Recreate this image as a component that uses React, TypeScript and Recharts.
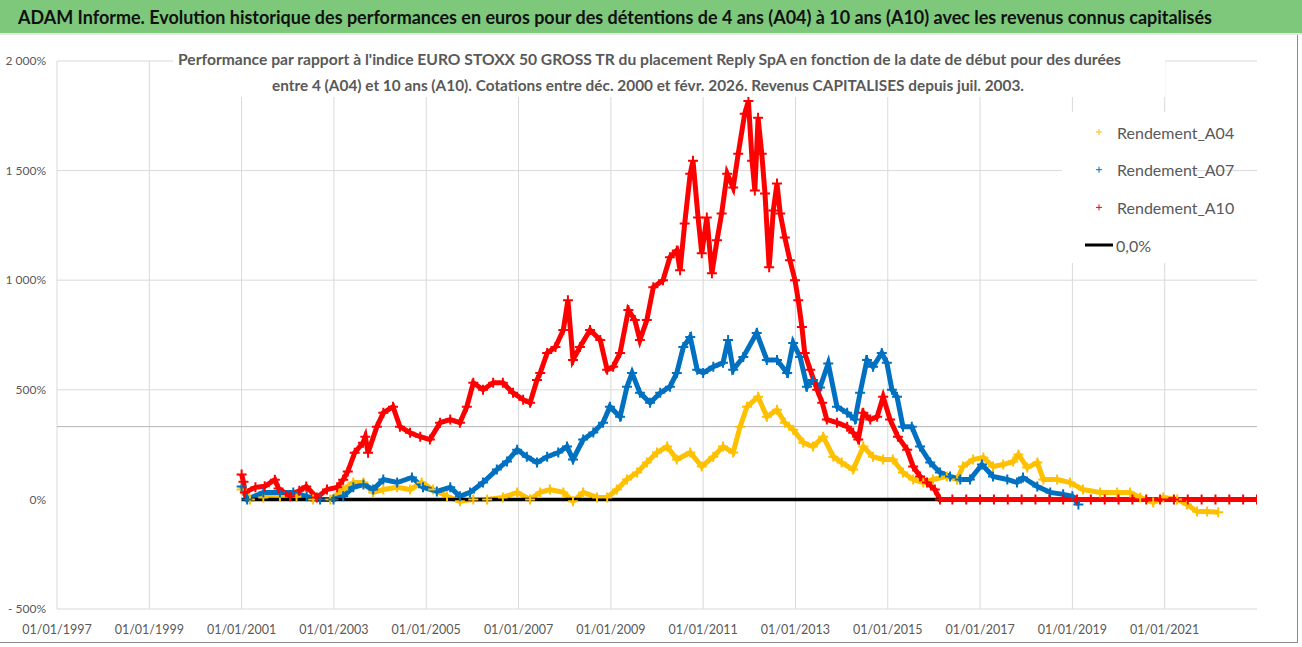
import { ComposedChart, Line, XAxis, YAxis, ReferenceLine } from 'recharts';

// axis ticks
const xTicks = [1997, 1999, 2001, 2003, 2005, 2007, 2009, 2011, 2013, 2015, 2017, 2019, 2021];
const yTicks = [-500, 0, 500, 1000, 1500, 2000];
const gridValues = [-500, 500, 1000, 1500, 2000];
const markerLevel = 332;

// Rendement_A04 (dates in decimal years, values in %)
const a04Dates = [
  2001.0, 2001.18, 2001.47, 2001.83, 2002.19, 2002.55, 2002.92, 2003.2, 2003.42, 2003.64, 2003.85,
  2004.07, 2004.37, 2004.65, 2004.9, 2005.15, 2005.45, 2005.73, 2006.02, 2006.32, 2006.66, 2006.97,
  2007.25, 2007.47, 2007.68, 2007.97, 2008.18, 2008.4, 2008.7, 2008.92, 2009.13, 2009.35, 2009.57,
  2009.78, 2010.0, 2010.22, 2010.43, 2010.72, 2010.97, 2011.22, 2011.43, 2011.65, 2011.8, 2011.95,
  2012.19, 2012.38, 2012.6, 2012.77, 2012.95, 2013.17, 2013.38, 2013.6, 2013.82, 2014.0, 2014.25,
  2014.47, 2014.68, 2014.9, 2015.11, 2015.33, 2015.55, 2015.77, 2015.98, 2016.28, 2016.5, 2016.63,
  2016.85, 2017.07, 2017.28, 2017.5, 2017.72, 2017.83, 2018.02, 2018.24, 2018.37, 2018.67, 2018.95,
  2019.23, 2019.6, 2019.97, 2020.25, 2020.47, 2020.75, 2020.97, 2021.27, 2021.48, 2021.7, 2021.92, 2022.16,
];
const a04Values = [
  45, 0, 9, 14, 14, 0, 0, 45, 77, 77, 32,
  45, 55, 45, 77, 45, 14, -9, 0, 0, 9, 32,
  0, 32, 45, 32, -9, 32, 9, 9, 45, 91, 123,
  168, 214, 241, 182, 214, 150, 195, 241, 214, 332, 423,
  468, 377, 409, 350, 318, 259, 241, 286, 195, 168, 136,
  241, 195, 182, 182, 123, 91, 77, 91, 105, 91, 150,
  182, 191, 150, 159, 173, 205, 145, 168, 91, 91, 77,
  45, 32, 32, 32, 9, -14, 9, 0, -23, -55, -55, -59,
];

// Rendement_A07
const a07Dates = [
  2001.0, 2001.12, 2001.47, 2001.83, 2002.12, 2002.41, 2002.7, 2002.99, 2003.2, 2003.42, 2003.64,
  2003.85, 2004.07, 2004.37, 2004.69, 2004.93, 2005.23, 2005.52, 2005.73, 2005.95, 2006.23, 2006.53,
  2006.75, 2006.97, 2007.18, 2007.4, 2007.62, 2007.86, 2008.05, 2008.18, 2008.4, 2008.62, 2008.83,
  2008.98, 2009.2, 2009.35, 2009.46, 2009.63, 2009.85, 2010.07, 2010.28, 2010.43, 2010.57, 2010.72,
  2010.87, 2011.0, 2011.22, 2011.43, 2011.54, 2011.65, 2011.87, 2012.16, 2012.38, 2012.6, 2012.82,
  2012.95, 2013.1, 2013.25, 2013.38, 2013.53, 2013.71, 2013.9, 2014.12, 2014.29, 2014.4, 2014.55,
  2014.68, 2014.87, 2014.98, 2015.09, 2015.2, 2015.33, 2015.52, 2015.7, 2015.92, 2016.13, 2016.35,
  2016.57, 2016.78, 2017.04, 2017.28, 2017.59, 2017.8, 2017.93, 2018.24, 2018.52, 2018.8, 2019.0, 2019.13,
];
const a07Values = [
  59, 0, 32, 32, 32, 14, 0, 0, 14, 55, 68,
  45, 91, 77, 100, 55, 36, 55, 14, 32, 77, 136,
  173, 227, 195, 168, 195, 214, 241, 182, 273, 305, 350,
  423, 377, 514, 577, 486, 441, 486, 514, 577, 695, 741,
  591, 577, 605, 623, 727, 591, 650, 759, 636, 636, 577,
  714, 650, 514, 545, 510, 620, 423, 395, 364, 486, 636,
  605, 668, 623, 500, 468, 332, 332, 241, 168, 123, 105,
  91, 91, 159, 105, 91, 77, 100, 59, 32, 23, 14, -23,
];

// Rendement_A10
const a10Dates = [
  2001.0, 2001.04, 2001.07, 2001.3, 2001.5, 2001.72, 2001.8, 2002.05, 2002.25, 2002.4, 2002.63,
  2002.85, 2003.07, 2003.2, 2003.3, 2003.45, 2003.63, 2003.68, 2003.74, 2003.93, 2004.07, 2004.28,
  2004.43, 2004.65, 2004.87, 2005.08, 2005.3, 2005.52, 2005.73, 2005.88, 2006.02, 2006.23, 2006.45,
  2006.66, 2006.88, 2007.1, 2007.25, 2007.4, 2007.47, 2007.62, 2007.8, 2007.97, 2008.07, 2008.18,
  2008.33, 2008.55, 2008.77, 2008.92, 2009.05, 2009.2, 2009.38, 2009.52, 2009.63, 2009.78, 2009.92,
  2010.13, 2010.28, 2010.43, 2010.5, 2010.6, 2010.72, 2010.78, 2010.89, 2010.97, 2011.08, 2011.19,
  2011.3, 2011.4, 2011.52, 2011.65, 2011.76, 2011.9, 2011.98, 2012.06, 2012.12, 2012.19, 2012.27,
  2012.34, 2012.43, 2012.52, 2012.6, 2012.67, 2012.77, 2012.88, 2012.99, 2013.06, 2013.14, 2013.2,
  2013.32, 2013.47, 2013.58, 2013.68, 2013.9, 2014.12, 2014.25, 2014.36, 2014.47, 2014.62, 2014.77,
  2014.9, 2015.05, 2015.22, 2015.42, 2015.55, 2015.7, 2015.85, 2016.02, 2016.13, 2016.4, 2016.7,
  2017.0, 2017.3, 2017.6, 2017.9, 2018.2, 2018.5, 2018.8, 2019.1, 2019.4, 2019.7, 2020.0, 2020.3,
  2020.6, 2020.9, 2021.2, 2021.5, 2021.8, 2022.1, 2022.4, 2022.7, 2023.0,
];
const a10Values = [
  114, 80, 32, 55, 60, 90, 50, 14, 40, 59, 9,
  45, 55, 90, 127, 213, 259, 286, 213, 332, 395, 423,
  332, 304, 286, 273, 350, 364, 350, 423, 532, 500, 532,
  532, 486, 455, 441, 545, 577, 668, 695, 773, 909, 636,
  695, 773, 727, 591, 605, 668, 864, 818, 727, 818, 968,
  1000, 1105, 1136, 1045, 1259, 1486, 1545, 1286, 1123, 1286, 1032,
  1182, 1304, 1486, 1423, 1577, 1759, 1818, 1545, 1409, 1741, 1577,
  1395, 1059, 1318, 1441, 1304, 1195, 1091, 1000, 909, 786, 668,
  591, 500, 441, 364, 350, 332, 304, 273, 395, 364, 377,
  468, 364, 286, 227, 150, 105, 77, 45, 0, 0, 0,
  0, 0, 0, 0, 0, 0, 0, 0, 0, 0, 0, 0,
  0, 0, 0, 0, 0, 0, 0, 0, 0,
];

// 0,0% reference series
const zeroDates = [2001.0, 2016.13];
const zeroValues = [0, 0];

const toRows = (dates: number[], values: number[]) => dates.map((t, i) => ({ t, v: values[i] }));

const GRID = '#d9d9d9';
const TEXT = '#595959';
const FONT = 'Lato, "Open Sans", sans-serif';

const fmtPct = (v: number) => {
  const a = Math.abs(v);
  const s = a >= 1000 ? `${Math.floor(a / 1000)} ${String(a % 1000).padStart(3, '0')}` : String(a);
  return (v < 0 ? '- ' : '') + s + '%';
};

const plusDot = (color: string) => (p: any) => {
  const { cx, cy, index } = p;
  if (cx == null || cy == null) return <g key={index} />;
  return (
    <path
      key={index}
      d={`M${cx - 5},${cy}H${cx + 5}M${cx},${cy - 5}V${cy + 5}`}
      stroke={color}
      strokeWidth={2}
      fill="none"
    />
  );
};

const series = [
  { name: 'Rendement_A04', color: '#FFC000', rows: toRows(a04Dates, a04Values) },
  { name: 'Rendement_A07', color: '#0070C0', rows: toRows(a07Dates, a07Values) },
  { name: 'Rendement_A10', color: '#FF0000', rows: toRows(a10Dates, a10Values) },
];

export default function App() {
  return (
    <div style={{ position: 'absolute', left: 0, top: 0, width: 1302, height: 647, background: '#fff', fontFamily: FONT, overflow: 'hidden' }}>
      <div style={{ position: 'absolute', left: 0, top: 0, width: 1302, height: 33, background: '#7DC87A' }} />
      <div style={{ position: 'absolute', left: 0, top: 33, width: 1302, height: 2, background: '#e6e6e6' }} />
      <div style={{ position: 'absolute', left: 1297, top: 35, width: 1, height: 608, background: '#8c8c8c' }} />
      <div style={{ position: 'absolute', left: 0, top: 642, width: 1298, height: 1, background: '#8c8c8c' }} />
      <div style={{ position: 'absolute', left: 0, top: 0 }}>
        <ComposedChart width={1302} height={647} margin={{ top: 61, right: 45, bottom: 8, left: 7 }}>
          <XAxis
            type="number"
            dataKey="t"
            domain={[1997, 2023]}
            ticks={xTicks}
            allowDataOverflow
            tickFormatter={(y: number) => `01/01/${y}`}
            tick={{ fontSize: 12.5, fill: TEXT, fontFamily: FONT }}
            axisLine={false}
            tickLine={false}
            tickSize={0}
            tickMargin={16}
            height={30}
            interval={0}
          />
          <YAxis
            type="number"
            domain={[-500, 2000]}
            ticks={yTicks}
            allowDataOverflow
            tickFormatter={fmtPct}
            tick={{ fontSize: 12, fill: TEXT, fontFamily: FONT }}
            axisLine={false}
            tickLine={false}
            tickSize={0}
            tickMargin={11}
            width={50}
            interval={0}
          />
          {xTicks.map((x) => (
            <ReferenceLine key={`vx${x}`} x={x} stroke={GRID} strokeWidth={1} />
          ))}
          {gridValues.map((y) => (
            <ReferenceLine key={`hy${y}`} y={y} stroke={GRID} strokeWidth={1} />
          ))}
          <ReferenceLine y={markerLevel} stroke="#b4b4b4" strokeWidth={1} />
          {series.map((s) => (
            <Line
              key={s.name}
              data={s.rows}
              dataKey="v"
              name={s.name}
              type="linear"
              stroke={s.color}
              strokeWidth={5}
              dot={plusDot(s.color)}
              activeDot={false}
              isAnimationActive={false}
            />
          ))}
          <Line
            data={toRows(zeroDates, zeroValues)}
            dataKey="v"
            name="0,0%"
            type="linear"
            stroke="#000"
            strokeWidth={3.5}
            dot={false}
            activeDot={false}
            isAnimationActive={false}
          />
        </ComposedChart>
      </div>
      <svg width={1302} height={647} style={{ position: 'absolute', left: 0, top: 0, pointerEvents: 'none' }}>
        <text x={18} y={24} fontSize={19} fontWeight={700} fill="#111" fontFamily={FONT} textLength={1194} lengthAdjust="spacingAndGlyphs">
          ADAM Informe. Evolution historique des performances en euros pour des détentions de 4 ans (A04) à 10 ans (A10) avec les revenus connus capitalisés
        </text>
        <rect x={173} y={45} width={992} height={52} fill="#fff" />
        <text x={178} y={65} fontSize={14.5} fontWeight={700} fill={TEXT} fontFamily={FONT} textLength={943} lengthAdjust="spacingAndGlyphs">
          Performance par rapport à l'indice EURO STOXX 50 GROSS TR  du placement Reply SpA en fonction de la date de début pour des durées
        </text>
        <text x={272} y={91} fontSize={14.5} fontWeight={700} fill={TEXT} fontFamily={FONT} textLength={752} lengthAdjust="spacingAndGlyphs">
          entre 4 (A04) et 10 ans (A10). Cotations entre déc. 2000 et févr. 2026. Revenus CAPITALISES depuis juil. 2003.
        </text>
        <rect x={1062} y={112} width={130} height={151} fill="#fff" />
        {series.map((s, i) => {
          const cy = 132 + i * 37.7;
          return (
            <g key={s.name}>
              <path d={`M1096,${cy}H1102M1099,${cy - 3}V${cy + 3}`} stroke={s.color} strokeWidth={1} />
              <text x={1117} y={cy} dominantBaseline="central" fontSize={16} fill={TEXT} fontFamily={FONT}>
                {s.name}
              </text>
            </g>
          );
        })}
        <line x1={1085} x2={1113} y1={245} y2={245} stroke="#000" strokeWidth={3} />
        <text x={1116} y={245} dominantBaseline="central" fontSize={16} fill={TEXT} fontFamily={FONT}>
          0,0%
        </text>
      </svg>
    </div>
  );
}
